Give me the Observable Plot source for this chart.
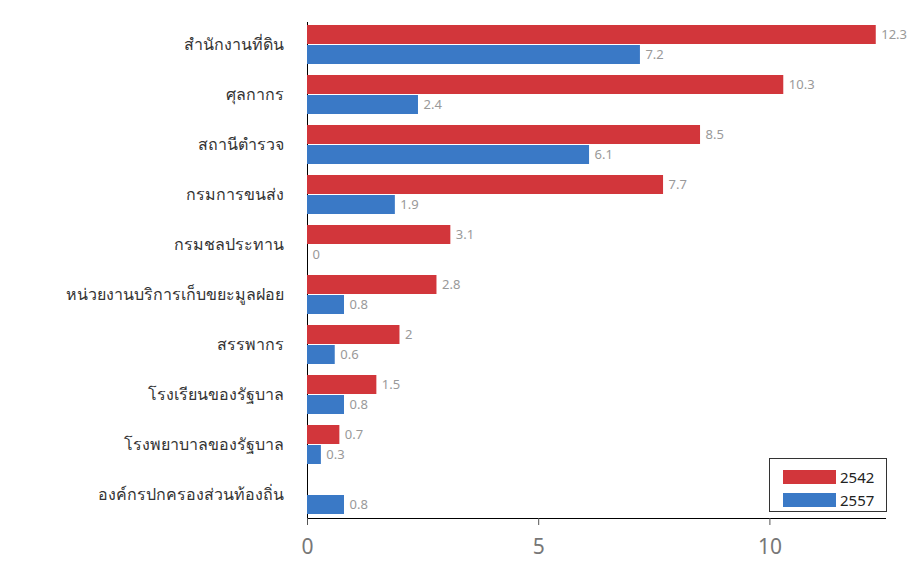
<!DOCTYPE html>
<html>
<head>
<meta charset="utf-8">
<script src="https://cdn.jsdelivr.net/npm/d3@7"></script>
<script src="https://cdn.jsdelivr.net/npm/@observablehq/plot@0.6"></script>
<style>
  html, body { margin: 0; padding: 0; background: #fff; }
  #wrap { position: relative; width: 917px; height: 568px; }
  #legend { position: absolute; left: 769px; top: 458px; width: 116px; height: 52px;
    border: 1px solid #333; background: #fff; font-family: "Noto Sans", "DejaVu Sans", sans-serif; font-size: 15px; color: #222; }
  .row { position: absolute; left: 13px; display: flex; align-items: center; }
  .sw { width: 53px; height: 14px; margin-right: 4px; }
</style>
</head>
<body>
<div id="wrap"></div>
<script>
const categories = [
  "สำนักงานที่ดิน",
  "ศุลกากร",
  "สถานีตำรวจ",
  "กรมการขนส่ง",
  "กรมชลประทาน",
  "หน่วยงานบริการเก็บขยะมูลฝอย",
  "สรรพากร",
  "โรงเรียนของรัฐบาล",
  "โรงพยาบาลของรัฐบาล",
  "องค์กรปกครองส่วนท้องถิ่น"
];
const series = ["2542", "2557"];
const values2542 = [12.3, 10.3, 8.5, 7.7, 3.1, 2.8, 2, 1.5, 0.7, null];
const values2557 = [7.2, 2.4, 6.1, 1.9, 0, 0.8, 0.6, 0.8, 0.3, 0.8];
const xTicks = [0, 5, 10];
const colors = ["#d2363b", "#3a79c6"];

const red = categories.map((c, i) => ({cat: c, v: values2542[i]})).filter(d => d.v != null);
const blue = categories.map((c, i) => ({cat: c, v: values2557[i]})).filter(d => d.v != null);

const font = '"Noto Sans", "DejaVu Sans", sans-serif';

const chart = Plot.plot({
  width: 917,
  height: 568,
  marginLeft: 307,
  marginRight: 32,
  marginTop: 22,
  marginBottom: 50,
  style: {fontFamily: font, background: "#fff"},
  x: {domain: [0, 12.5], ticks: xTicks, tickSize: 7, tickPadding: 14, line: true, label: null},
  y: {domain: categories, paddingInner: 0.2126, paddingOuter: 0, tickSize: 0, tickPadding: 24, line: true, label: null},
  marks: [
    Plot.barX(red, {x: "v", y: "cat", fill: colors[0], insetBottom: 20}),
    Plot.barX(blue, {x: "v", y: "cat", fill: colors[1], insetTop: 20}),
    Plot.text(red, {x: "v", y: "cat", text: d => String(d.v), dy: -10, dx: 5, textAnchor: "start", fill: "#999", fontSize: 13}),
    Plot.text(blue, {x: "v", y: "cat", text: d => String(d.v), dy: 10, dx: 5, textAnchor: "start", fill: "#999", fontSize: 13})
  ]
});

const svg = d3.select(chart);
svg.selectAll('g[aria-label="x-axis tick label"]').attr("font-size", 21).attr("fill", "#777");
svg.selectAll('g[aria-label="x-axis tick"]').attr("stroke", "#555");
svg.selectAll('g[aria-label="y-axis tick label"]').attr("font-size", 16).attr("fill", "#333");
svg.selectAll('g[aria-label="x-axis line"], g[aria-label="y-axis line"]').attr("stroke", "#555").attr("stroke-width", 1.4);

const wrap = document.getElementById("wrap");
wrap.appendChild(chart);

const legend = document.createElement("div");
legend.id = "legend";
series.forEach((s, i) => {
  const row = document.createElement("div");
  row.className = "row";
  row.style.top = (i === 0 ? 8 : 31) + "px";
  const sw = document.createElement("div");
  sw.className = "sw";
  sw.style.background = colors[i];
  const t = document.createElement("span");
  t.textContent = s;
  row.appendChild(sw);
  row.appendChild(t);
  legend.appendChild(row);
});
wrap.appendChild(legend);
</script>
</body>
</html>
